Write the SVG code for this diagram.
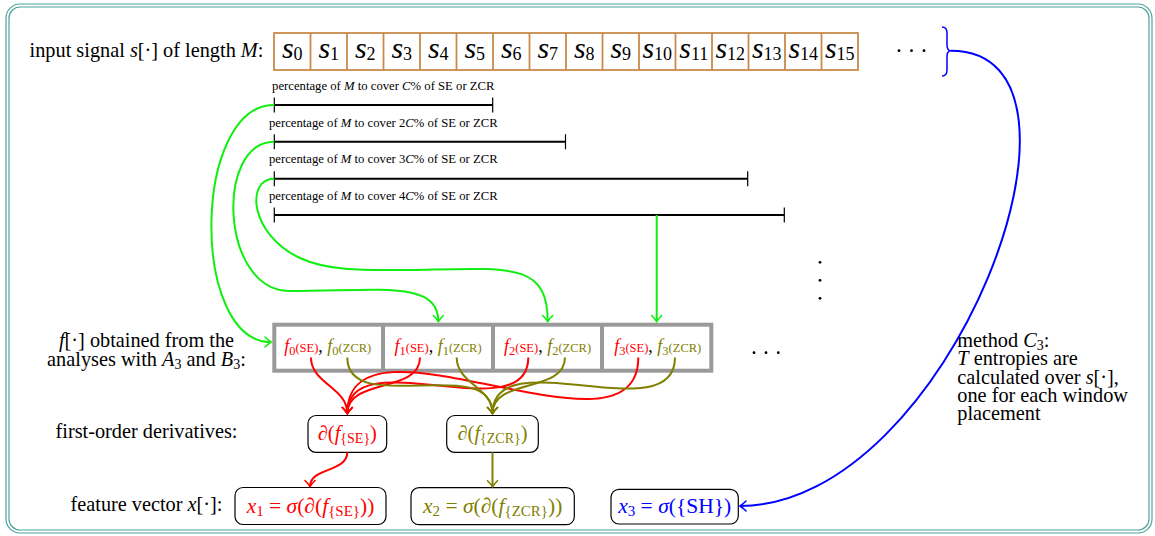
<svg xmlns="http://www.w3.org/2000/svg" width="1155" height="536" viewBox="0 0 1155 536">
<style>
text{font-family:"Liberation Serif","Times New Roman",serif;fill:#000}
.lbl{font-size:20.3px}
.mid{text-anchor:middle}
.it{font-style:italic}
.pct{font-size:12.7px;text-anchor:middle}
.cell{fill:#fff;stroke:#c98a4b;stroke-width:1.8}
.sv{font-size:30px;text-anchor:middle}
.ss{font-size:18px}
.br{stroke:#000;stroke-width:2;fill:none}
.tk{stroke:#000;stroke-width:1.2}
.g{fill:none;stroke:#11ee11;stroke-width:2;marker-end:url(#ag)}
.r{fill:none;stroke:#ff0000;stroke-width:2;marker-end:url(#ar)}
.o{fill:none;stroke:#808000;stroke-width:2;marker-end:url(#ao)}
.b{fill:none;stroke:#0000ff;stroke-width:2}
.node{fill:#fff;stroke:#000;stroke-width:1.2}
.fr{fill:none;stroke:#4fa29d;stroke-width:1.2}
.red{fill:#ff0000}
.olv{fill:#808000}
.blu{fill:#0000ff}
.ft{font-size:18px;text-anchor:middle}
.fs{font-size:12.5px}
.nt{font-size:20.5px;text-anchor:middle}
.xt{font-size:21.5px;text-anchor:middle}
.sb{font-size:14px}
.sb2{font-size:15px}
</style>
<defs>
<marker id="ag" markerUnits="userSpaceOnUse" viewBox="-8 -7 10 14" refX="0" refY="0" markerWidth="10" markerHeight="14" orient="auto"><path d="M-6,-5 Q-2.5,-1.5 0,0 Q-2.5,1.5 -6,5" fill="none" stroke="#11ee11" stroke-width="1.6" stroke-linecap="round"/></marker>
<marker id="ar" markerUnits="userSpaceOnUse" viewBox="-8 -7 10 14" refX="0" refY="0" markerWidth="10" markerHeight="14" orient="auto"><path d="M-6,-5 Q-2.5,-1.5 0,0 Q-2.5,1.5 -6,5" fill="none" stroke="#ff0000" stroke-width="1.6" stroke-linecap="round"/></marker>
<marker id="ao" markerUnits="userSpaceOnUse" viewBox="-8 -7 10 14" refX="0" refY="0" markerWidth="10" markerHeight="14" orient="auto"><path d="M-6,-5 Q-2.5,-1.5 0,0 Q-2.5,1.5 -6,5" fill="none" stroke="#808000" stroke-width="1.6" stroke-linecap="round"/></marker>
<marker id="ab" markerUnits="userSpaceOnUse" viewBox="-8 -7 10 14" refX="0" refY="0" markerWidth="10" markerHeight="14" orient="auto"><path d="M-6,-5 Q-2.5,-1.5 0,0 Q-2.5,1.5 -6,5" fill="none" stroke="#0000ff" stroke-width="1.6" stroke-linecap="round"/></marker>
</defs>
<rect width="1155" height="536" fill="#fff"/>
<g id="frame">
<rect class="fr" x="6" y="4" width="1146" height="529" rx="14"/>
<rect class="fr" x="9" y="7" width="1140" height="523" rx="11"/>
</g>
<g id="labels">
<text class="lbl mid" x="146.5" y="57">input signal <tspan class="it">s</tspan>[·] of length <tspan class="it">M</tspan>:</text>
<text class="lbl mid" x="146.5" y="347"><tspan class="it">f</tspan>[·] obtained from the</text>
<text class="lbl mid" x="146.5" y="365.5">analyses with <tspan class="it">A</tspan><tspan class="sb" dy="3">3</tspan><tspan dy="-3"> and </tspan><tspan class="it">B</tspan><tspan class="sb" dy="3">3</tspan><tspan dy="-3">:</tspan></text>
<text class="lbl mid" x="146.5" y="437.7">first-order derivatives:</text>
<text class="lbl mid" x="146.5" y="511">feature vector <tspan class="it">x</tspan>[·]:</text>
</g>
<g id="signal">
<rect class="cell" x="274" y="33" width="584" height="37"/>
<path d="M310.5,33V70M347,33V70M383.5,33V70M420,33V70M456.5,33V70M493,33V70M529.5,33V70M566,33V70M602.5,33V70M639,33V70M675.5,33V70M712,33V70M748.5,33V70M785,33V70M821.5,33V70" stroke="#c98a4b" stroke-width="1.8" fill="none"/>
<text class="sv" x="292.25" y="58"><tspan class="it">s</tspan><tspan class="ss" dy="2">0</tspan></text>
<text class="sv" x="328.75" y="58"><tspan class="it">s</tspan><tspan class="ss" dy="2">1</tspan></text>
<text class="sv" x="365.25" y="58"><tspan class="it">s</tspan><tspan class="ss" dy="2">2</tspan></text>
<text class="sv" x="401.75" y="58"><tspan class="it">s</tspan><tspan class="ss" dy="2">3</tspan></text>
<text class="sv" x="438.25" y="58"><tspan class="it">s</tspan><tspan class="ss" dy="2">4</tspan></text>
<text class="sv" x="474.75" y="58"><tspan class="it">s</tspan><tspan class="ss" dy="2">5</tspan></text>
<text class="sv" x="511.25" y="58"><tspan class="it">s</tspan><tspan class="ss" dy="2">6</tspan></text>
<text class="sv" x="547.75" y="58"><tspan class="it">s</tspan><tspan class="ss" dy="2">7</tspan></text>
<text class="sv" x="584.25" y="58"><tspan class="it">s</tspan><tspan class="ss" dy="2">8</tspan></text>
<text class="sv" x="620.75" y="58"><tspan class="it">s</tspan><tspan class="ss" dy="2">9</tspan></text>
<text class="sv" x="657.25" y="58"><tspan class="it">s</tspan><tspan class="ss" dy="2">10</tspan></text>
<text class="sv" x="693.75" y="58"><tspan class="it">s</tspan><tspan class="ss" dy="2">11</tspan></text>
<text class="sv" x="730.25" y="58"><tspan class="it">s</tspan><tspan class="ss" dy="2">12</tspan></text>
<text class="sv" x="766.75" y="58"><tspan class="it">s</tspan><tspan class="ss" dy="2">13</tspan></text>
<text class="sv" x="803.25" y="58"><tspan class="it">s</tspan><tspan class="ss" dy="2">14</tspan></text>
<text class="sv" x="839.75" y="58"><tspan class="it">s</tspan><tspan class="ss" dy="2">15</tspan></text>
</g>
<g id="dots">
<circle cx="899" cy="50.7" r="1.4"/><circle cx="911.5" cy="50.7" r="1.4"/><circle cx="924" cy="50.7" r="1.4"/>
<circle cx="820" cy="262.3" r="1.4"/><circle cx="820" cy="280.3" r="1.4"/><circle cx="820" cy="298.3" r="1.4"/>
<circle cx="754" cy="352.7" r="1.4"/><circle cx="766" cy="352.7" r="1.4"/><circle cx="778.3" cy="352.7" r="1.4"/>
</g>
<g id="brace">
<path d="M942,27 C946,27 947,29 947,33 L947,45 C947,49 948,50.7 951,50.7 C948,50.7 947,52.5 947,56.5 L947,70 C947,74 946,76 942,76" fill="none" stroke="#0000ff" stroke-width="1.5"/>
</g>
<g id="windows">
<text class="pct" x="383.3" y="90">percentage of <tspan class="it">M</tspan> to cover <tspan class="it">C</tspan>% of SE or ZCR</text>
<path class="br" d="M274.3,105H492.7"/><path class="tk" d="M274.3,97.5V112.5M492.7,97.5V112.5"/>
<text class="pct" x="383.3" y="126.7">percentage of <tspan class="it">M</tspan> to cover 2<tspan class="it">C</tspan>% of SE or ZCR</text>
<path class="br" d="M274.3,141.7H565.5"/><path class="tk" d="M274.3,134.2V149.2M565.5,134.2V149.2"/>
<text class="pct" x="383.3" y="163.3">percentage of <tspan class="it">M</tspan> to cover 3<tspan class="it">C</tspan>% of SE or ZCR</text>
<path class="br" d="M274.3,178.7H747.7"/><path class="tk" d="M274.3,171.2V186.2M747.7,171.2V186.2"/>
<text class="pct" x="383.3" y="200">percentage of <tspan class="it">M</tspan> to cover 4<tspan class="it">C</tspan>% of SE or ZCR</text>
<path class="br" d="M274.3,215H784.3"/><path class="tk" d="M274.3,207.5V222.5M784.3,207.5V222.5"/>
</g>
<g id="f-row">
<rect x="274.3" y="324.7" width="437" height="46" fill="#fff" stroke="#9a9a9a" stroke-width="4"/>
<path d="M383,324.7V370.7M493,324.7V370.7M602,324.7V370.7" stroke="#9a9a9a" stroke-width="4"/>
<text class="ft" x="327.7" y="351.7"><tspan class="it red">f</tspan><tspan class="fs red" dy="3">0</tspan><tspan class="fs red" dy="-3">(SE)</tspan>, <tspan class="it olv">f</tspan><tspan class="fs olv" dy="3">0</tspan><tspan class="fs olv" dy="-3">(ZCR)</tspan></text>
<text class="ft" x="438" y="351.7"><tspan class="it red">f</tspan><tspan class="fs red" dy="3">1</tspan><tspan class="fs red" dy="-3">(SE)</tspan>, <tspan class="it olv">f</tspan><tspan class="fs olv" dy="3">1</tspan><tspan class="fs olv" dy="-3">(ZCR)</tspan></text>
<text class="ft" x="547.5" y="351.7"><tspan class="it red">f</tspan><tspan class="fs red" dy="3">2</tspan><tspan class="fs red" dy="-3">(SE)</tspan>, <tspan class="it olv">f</tspan><tspan class="fs olv" dy="3">2</tspan><tspan class="fs olv" dy="-3">(ZCR)</tspan></text>
<text class="ft" x="657.7" y="351.7"><tspan class="it red">f</tspan><tspan class="fs red" dy="3">3</tspan><tspan class="fs red" dy="-3">(SE)</tspan>, <tspan class="it olv">f</tspan><tspan class="fs olv" dy="3">3</tspan><tspan class="fs olv" dy="-3">(ZCR)</tspan></text>
</g>
<g id="d-se">
<rect class="node" x="308" y="415.5" width="78.7" height="36.8" rx="8"/>
<text class="nt red" x="347.3" y="440">∂(<tspan class="it">f</tspan><tspan class="sb" dy="3">{SE}</tspan><tspan dy="-3">)</tspan></text>
</g>
<g id="d-zcr">
<rect class="node" x="446.7" y="415.5" width="91.6" height="36.8" rx="8"/>
<text class="nt olv" x="492.5" y="440">∂(<tspan class="it">f</tspan><tspan class="sb" dy="3">{ZCR}</tspan><tspan dy="-3">)</tspan></text>
</g>
<g id="x1">
<rect class="node" x="235" y="487.5" width="151" height="37" rx="8"/>
<text class="xt red" x="310.5" y="513.3"><tspan class="it">x</tspan><tspan class="sb2" dy="3">1</tspan><tspan dy="-3"> = </tspan><tspan class="it">σ</tspan>(∂(<tspan class="it">f</tspan><tspan class="sb2" dy="3">{SE}</tspan><tspan dy="-3">))</tspan></text>
</g>
<g id="x2">
<rect class="node" x="411" y="487.7" width="163.3" height="37" rx="8"/>
<text class="xt olv" x="492.7" y="513.3"><tspan class="it">x</tspan><tspan class="sb2" dy="3">2</tspan><tspan dy="-3"> = </tspan><tspan class="it">σ</tspan>(∂(<tspan class="it">f</tspan><tspan class="sb2" dy="3">{ZCR}</tspan><tspan dy="-3">))</tspan></text>
</g>
<g id="x3">
<rect class="node" x="611" y="489.3" width="127.3" height="34.7" rx="8"/>
<text class="xt blu" x="674.7" y="513.3"><tspan class="it">x</tspan><tspan class="sb2" dy="3">3</tspan><tspan dy="-3"> = </tspan><tspan class="it">σ</tspan>({SH})</text>
</g>
<g id="method">
<text class="lbl" x="957.3" y="347.3">method <tspan class="it">C</tspan><tspan class="sb" dy="3">3</tspan><tspan dy="-3">:</tspan></text>
<text class="lbl" x="957.3" y="365.4"><tspan class="it">T</tspan> entropies are</text>
<text class="lbl" x="957.3" y="383.5">calculated over <tspan class="it">s</tspan>[·],</text>
<text class="lbl" x="957.3" y="401.6">one for each window</text>
<text class="lbl" x="957.3" y="419.7">placement</text>
</g>
<g id="connectors">
<path class="g" d="M274.3,105 C192,105 190,342 271,342"/>
<path class="g" d="M274.3,141.7 C215,141.7 220,291 290,291 C380,291 438.3,280 438.3,321.5"/>
<path class="g" d="M274.3,178.7 C245,178.7 250,235 300,258 C330,272 370,270 410,270 C510,268 547.7,262 547.7,321.5"/>
<path class="g" d="M656.7,215 L656.7,321.5"/>
<path class="r" d="M311,357.5 C311,383.6 347.3,387.4 347.3,413.5"/>
<path class="r" d="M420,357.5 C420,393.4 347.3,377.6 347.3,413.5"/>
<path class="r" d="M528.3,357.5 C528.3,431.7 347.3,339.3 347.3,413.5"/>
<path class="r" d="M638.3,357.5 C638.3,473.5 347.3,297.5 347.3,413.5"/>
<path class="o" d="M347.3,357.5 C347.3,418.4 492.5,352.6 492.5,413.5"/>
<path class="o" d="M456.7,357.5 C456.7,383.5 492.5,387.5 492.5,413.5"/>
<path class="o" d="M565,357.5 C565,393.4 492.5,377.6 492.5,413.5"/>
<path class="o" d="M675,357.5 C675,432.2 492.5,338.8 492.5,413.5"/>
<path class="r" d="M347.3,452.3 C347.3,472.5 310,467.1 310,486.5"/>
<path class="o" d="M492.5,452.3 L492.5,486.7"/>
<path class="b" marker-end="url(#ab)" d="M951,50.7 C1120,50.7 950,506 740,506"/>
</g>
</svg>
